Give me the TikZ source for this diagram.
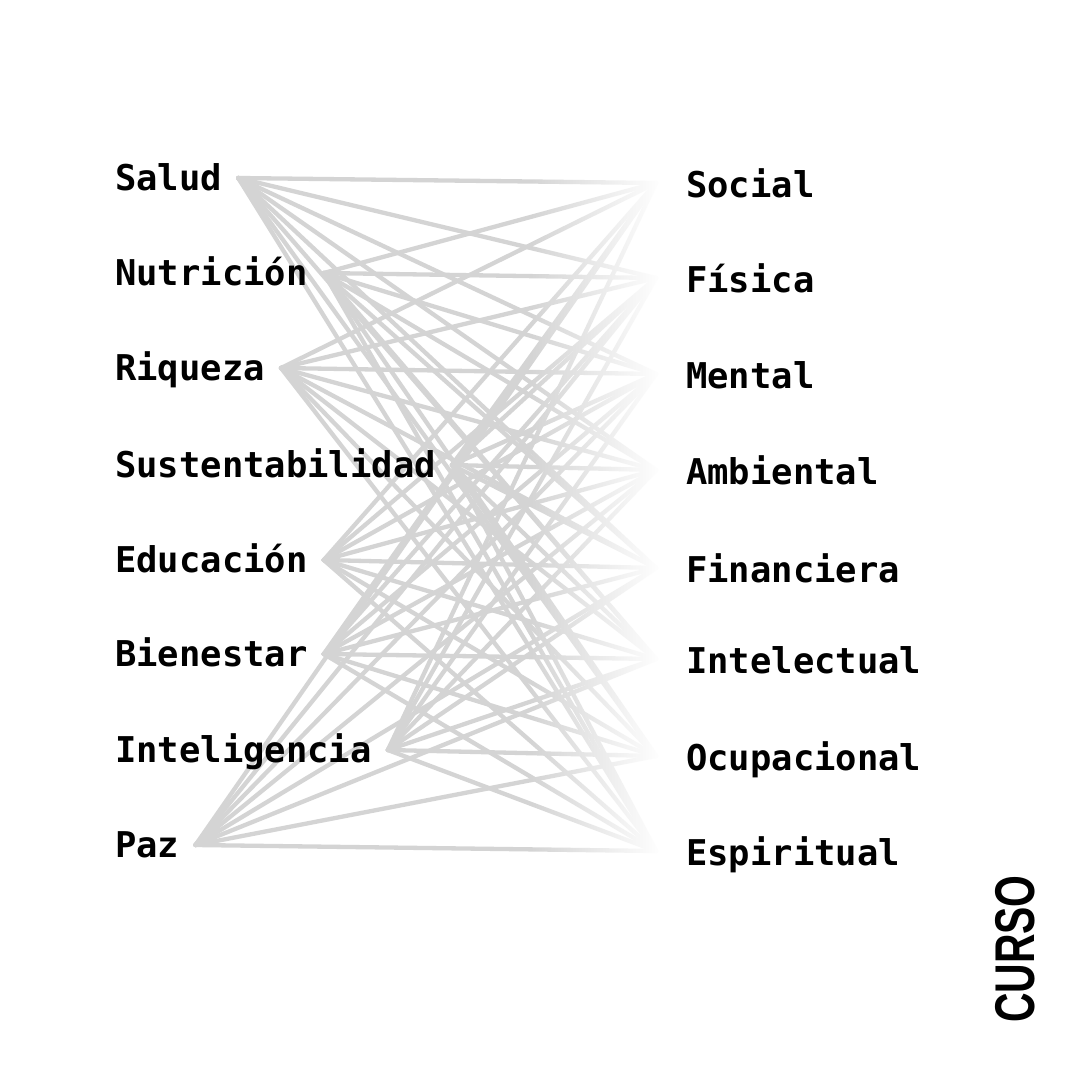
\documentclass[tikz,border=0pt]{standalone}
\usepackage{fontspec}
\newfontfamily\labelfont{DejaVu Sans Mono}
\newfontfamily\cursofont{Liberation Sans}
\usetikzlibrary{fadings,backgrounds}

\tikzfading[name=washout, left color=transparent!100, right color=transparent!0]

\begin{document}
\begin{tikzpicture}[x=1pt, y=-1pt,
	lbl/.style={anchor=base west, inner sep=0pt, font=\labelfont\bfseries\fontsize{35.5}{40}\selectfont},
	edge/.style={draw=linegray, line width=4.3pt, line cap=round}]
	\definecolor{linegray}{HTML}{D4D4D4}
	\useasboundingbox (0,0) rectangle (1080,1080);

	% left column
	\node[lbl] (salud) at (115,190) {Salud};
	\node[lbl] (nutricion) at (115,285) {Nutrición};
	\node[lbl] (riqueza) at (115,380) {Riqueza};
	\node[lbl] (sustentabilidad) at (115,477) {Sustentabilidad};
	\node[lbl] (educacion) at (115,572) {Educación};
	\node[lbl] (bienestar) at (115,666) {Bienestar};
	\node[lbl] (inteligencia) at (115,762) {Inteligencia};
	\node[lbl] (paz) at (115,857) {Paz};

	% right column
	\node[lbl] (social) at (686,197) {Social};
	\node[lbl] (fisica) at (686,292) {Física};
	\node[lbl] (mental) at (686,388) {Mental};
	\node[lbl] (ambiental) at (686,484) {Ambiental};
	\node[lbl] (financiera) at (686,582) {Financiera};
	\node[lbl] (intelectual) at (686,673) {Intelectual};
	\node[lbl] (ocupacional) at (686,770) {Ocupacional};
	\node[lbl] (espiritual) at (686,865) {Espiritual};

	\node[rotate=90, inner sep=0pt] (curso) at (1015,949) {\cursofont\bfseries\fontsize{56}{60}\selectfont\scalebox{0.73}[1]{CURSO}};

	\foreach \a in {salud,nutricion,riqueza,sustentabilidad,educacion,bienestar,inteligencia,paz}
		\coordinate (\a-o) at ([shift={(16pt,12pt)}]\a.base east);
	\foreach \b in {social,fisica,mental,ambiental,financiera,intelectual,ocupacional,espiritual}
		\coordinate (\b-i) at ([shift={(-30pt,14pt)}]\b.base west);

	\begin{scope}[on background layer]
		\fill[white] (0,0) rectangle (1080,1080);
		\foreach \a in {salud,nutricion,riqueza,sustentabilidad,educacion,bienestar,inteligencia,paz}
			\foreach \b in {social,fisica,mental,ambiental,financiera,intelectual,ocupacional,espiritual}
				\draw[edge] (\a-o) -- (\b-i);
		% fade the lines out towards the right column
		\fill[white, path fading=washout] (530,130) rectangle (660,900);
		\fill[white] (659,130) rectangle (672,900);
	\end{scope}
\end{tikzpicture}
\end{document}
